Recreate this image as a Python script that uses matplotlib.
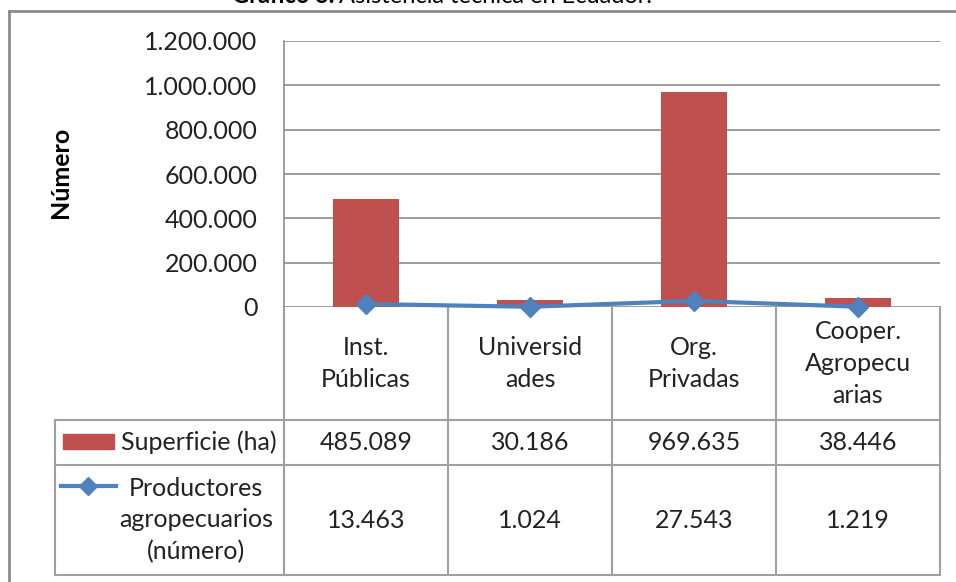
import matplotlib.pyplot as plt
from matplotlib.transforms import blended_transform_factory
from matplotlib.lines import Line2D
from matplotlib.patches import Rectangle

plt.rcParams['font.family'] = ['Lato', 'DejaVu Sans']

# datos
categorias = ['Inst.\nPúblicas', 'Universid\nades', 'Org.\nPrivadas', 'Cooper.\nAgropecu\narias']
superficie = [485089, 30186, 969635, 38446]
productores = [13463, 1024, 27543, 1219]
superficie_txt = ['485.089', '30.186', '969.635', '38.446']
productores_txt = ['13.463', '1.024', '27.543', '1.219']
yticks = [0, 200000, 400000, 600000, 800000, 1000000, 1200000]
ytick_labels = ['0', '200.000', '400.000', '600.000', '800.000', '1.000.000', '1.200.000']

rojo = '#C0504D'
azul = '#4F81BD'
gris = '#8C8C8C'
texto = '#222222'
fs = 18
W, H = 956, 582

fig = plt.figure(figsize=(W / 100, H / 100), dpi=100)
ax = fig.add_axes([284 / W, 1 - 307 / H, 656 / W, 266 / H])

x = list(range(len(categorias)))
ax.bar(x, superficie, width=0.40, color=rojo, zorder=2)
ax.plot(x, productores, color=azul, lw=3, marker='D', ms=10, zorder=3, clip_on=False)

ax.set_xlim(-0.5, len(categorias) - 0.5)
ax.set_ylim(0, 1200000)
ax.set_yticks(yticks, ytick_labels)
ax.tick_params(axis='y', length=0, pad=19, labelsize=fs, labelcolor=texto)
ax.tick_params(axis='x', length=0, labelbottom=False)
ax.yaxis.grid(True, color=gris, lw=1.2)
ax.set_axisbelow(True)
for s in ['top', 'right', 'bottom']:
    ax.spines[s].set_visible(False)
ax.spines['left'].set_color(gris)
ax.spines['left'].set_linewidth(1.2)

fig.text(60 / W, 1 - 172 / H, 'Número', rotation=90, fontsize=fs, fontweight='bold',
         ha='center', va='center')

# tabla de datos bajo el grafico
tr = blended_transform_factory(ax.transData, ax.transAxes)


def px(xp):
    return -0.5 + (xp - 284) / 164


def py(yp):
    return (307 - yp) / 266


r0, r1, r2, r3 = py(307), py(420), py(465), py(575)
xl = px(55)
xr = len(categorias) - 0.5
kw = dict(transform=tr, color='#A0A0A0', lw=1.5, clip_on=False)
for i in range(len(categorias) + 1):
    ax.add_line(Line2D([i - 0.5, i - 0.5], [r3, r0], **kw))
ax.add_line(Line2D([xl, xl], [r3, r1], **kw))
for yy in [r1, r2, r3]:
    ax.add_line(Line2D([xl, xr], [yy, yy], **kw))

for i, cat in enumerate(categorias):
    ax.text(i, (r0 + r1) / 2, cat, transform=tr, ha='center', va='center',
            fontsize=fs, linespacing=1.45, color=texto)
    ax.text(i, (r1 + r2) / 2, superficie_txt[i], transform=tr, ha='center', va='center',
            fontsize=fs, color=texto)
    ax.text(i, (r2 + r3) / 2, productores_txt[i], transform=tr, ha='center', va='center',
            fontsize=fs, color=texto)

# leyenda dentro de la tabla
ax.add_patch(Rectangle((px(63), py(449)), px(114) - px(63), py(434) - py(449),
                       transform=tr, color=rojo, clip_on=False))
ax.text(px(121), (r1 + r2) / 2, 'Superficie (ha)', transform=tr, ha='left', va='center',
        fontsize=fs, color=texto)
ax.add_line(Line2D([px(61), px(116)], [py(486), py(486)], transform=tr, color=azul,
                   lw=3, clip_on=False))
ax.add_line(Line2D([px(88)], [py(486)], transform=tr, color=azul, marker='D', ms=9,
                   clip_on=False))
ax.text(px(196), py(520), 'Productores\nagropecuarios\n(número)', transform=tr,
        ha='center', va='center', fontsize=fs, linespacing=1.45, color=texto)

# marco exterior
fig.add_artist(Line2D([9 / W, 9 / W], [0, 1 - 11 / H], color=gris, lw=2))
fig.add_artist(Line2D([9 / W, 1], [1 - 11 / H, 1 - 11 / H], color=gris, lw=2))

# titulo (cortado arriba, como en el original)
fig.text(334 / W, 1 - 3 / H, 'Gráfico 3.', fontsize=17, fontweight='bold',
         ha='right', va='baseline')
fig.text(339 / W, 1 - 3 / H, 'Asistencia técnica en Ecuador.', fontsize=17,
         ha='left', va='baseline')

fig.savefig('out.png', dpi=100)
